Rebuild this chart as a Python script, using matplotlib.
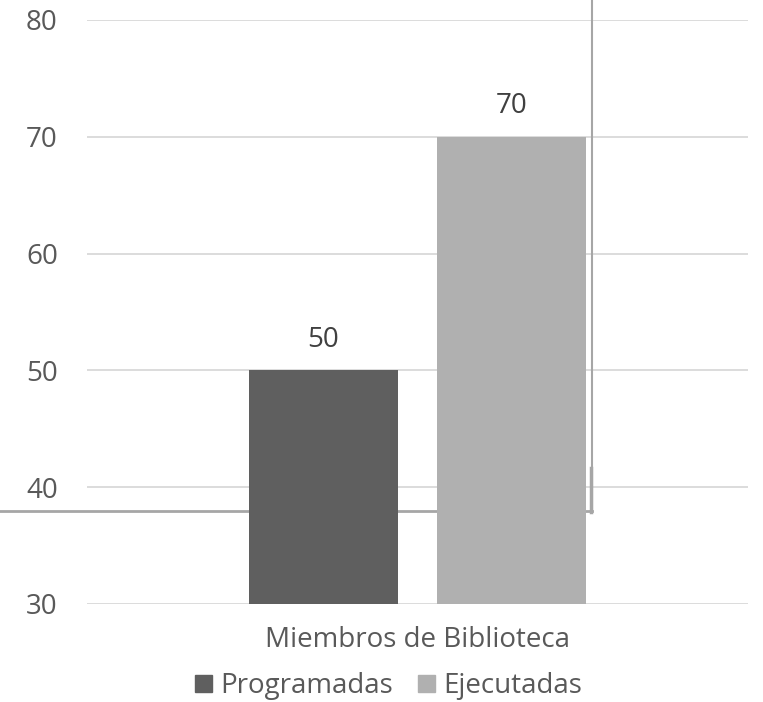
import matplotlib.pyplot as plt
from matplotlib.patches import Patch

plt.rcParams['font.family'] = ['Open Sans', 'DejaVu Sans']

category = "Miembros de Biblioteca"
series_names = ["Programadas", "Ejecutadas"]
series_values = [50, 70]
series_colors = ["#5f5f5f", "#b0b0b0"]
y_ticks = [30, 40, 50, 60, 70, 80]

text_color = "#595959"
grid_color = "#d9d9d9"
frame_color = "#a6a6a6"

W, H = 763, 702
fig = plt.figure(figsize=(W / 100, H / 100), dpi=100)
ax = fig.add_axes([87 / W, 1 - 604 / H, (748 - 87) / W, (604 - 20) / H])
ax.patch.set_alpha(0)

bar_width = 149 / 661
offsets = [-0.1422, 0.1422]
for name, val, col, off in zip(series_names, series_values, series_colors, offsets):
    ax.bar(0.5 + off, val, width=bar_width, color=col, zorder=2, label=name)
    ax.annotate(f"{val}", (0.5 + off, val), xytext=(0, 12),
                textcoords="offset points", ha="center", va="bottom",
                fontsize=20, color="#404040")

ax.set_xlim(0, 1)
ax.set_ylim(30, 80)
ax.set_yticks(y_ticks)
ax.set_xticks([0.5], [category])
ax.tick_params(axis="both", length=0, labelsize=20, labelcolor=text_color)
ax.tick_params(axis="y", pad=21)
ax.tick_params(axis="x", pad=16)
ax.yaxis.grid(True, color=grid_color, linewidth=1.3, zorder=0)
ax.set_axisbelow(True)
for s in ax.spines.values():
    s.set_visible(False)

# leftover border lines of a shape in the original picture
ax.plot([592 / W, 592 / W], [1, 1 - 512 / H], transform=fig.transFigure,
        color=frame_color, linewidth=1.5, clip_on=False, zorder=1)
ax.plot([0, 592 / W], [1 - 511 / H, 1 - 511 / H], transform=fig.transFigure,
        color=frame_color, linewidth=2, clip_on=False, zorder=1)
ax.plot([591 / W, 591 / W], [1 - 468 / H, 1 - 512 / H], transform=fig.transFigure,
        color=frame_color, linewidth=2.5, clip_on=False, zorder=1)

handles = [Patch(color=c) for c in series_colors]
fig.legend(handles, series_names, loc="center", bbox_to_anchor=(389 / W, 1 - 686 / H),
           ncol=2, frameon=False, fontsize=20, labelcolor=text_color,
           handlelength=0.58, handleheight=0.58, handletextpad=0.33,
           columnspacing=0.9, borderpad=0, borderaxespad=0)

fig.savefig("out.png", dpi=100)
